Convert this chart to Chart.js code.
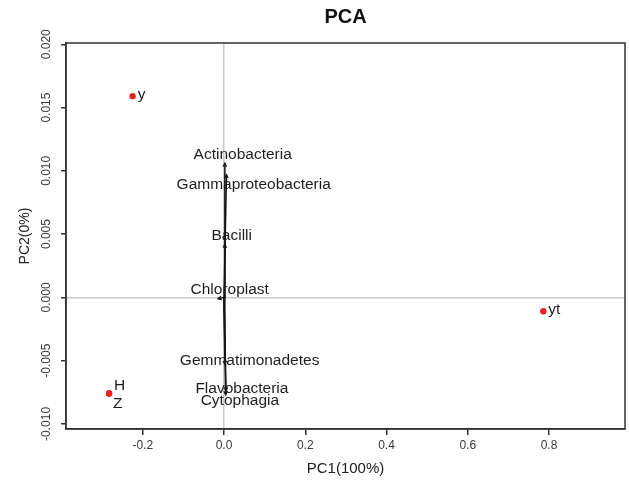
<!DOCTYPE html>
<html>
<head>
<meta charset="utf-8">
<script src="https://cdn.jsdelivr.net/npm/chart.js@4"></script>
<style>
  body { margin: 0; background: #fff; }
  #wrap { width: 629px; height: 484px; }
</style>
</head>
<body>
<div id="wrap"><canvas id="pca"></canvas></div>
<script>
// sample scores
var sampleNames = ['y', 'H', 'Z', 'yt'];
var samplePC1 = [-0.225, -0.283, -0.283, 0.786];
var samplePC2 = [0.0159, -0.0076, -0.0076, -0.0011];

// taxa loadings (arrow tips and label anchors)
var taxa = ['Actinobacteria', 'Gammaproteobacteria', 'Bacilli', 'Chloroplast',
            'Gemmatimonadetes', 'Flavobacteria', 'Cytophagia'];
var arrowPC1 = [0.002, 0.006, 0.002, -0.015, 0.002, 0.005, 0.004];
var arrowPC2 = [0.0106, 0.0097, 0.0042, -0.0001, -0.0053, -0.0074, -0.0077];
var labelPC1 = [0.046, 0.073, 0.019, 0.014, 0.063, 0.044, 0.039];
var labelPC2 = [0.0113, 0.0089, 0.0049, 0.0006, -0.0050, -0.0072, -0.0082];

// axis ticks
var xTicks = [-0.2, 0.0, 0.2, 0.4, 0.6, 0.8];
var yTicks = [-0.010, -0.005, 0.000, 0.005, 0.010, 0.015, 0.020];

var FONT = "'Liberation Sans', Arial, sans-serif";

var datasets = [];
for (var i = 0; i < taxa.length; i++) {
    datasets.push({
        type: 'line',
        label: taxa[i],
        data: [{x: 0, y: 0}, {x: arrowPC1[i], y: arrowPC2[i]}],
        borderColor: '#151515',
        borderWidth: 1.5,
        pointRadius: 0,
        fill: false
    });
}
datasets.push({
    label: 'samples',
    data: sampleNames.map(function(n, i) { return {x: samplePC1[i], y: samplePC2[i]}; }),
    backgroundColor: '#e8231d',
    borderWidth: 0,
    pointRadius: 3.2
});

var gridColor = function(c) { return c.tick && c.tick.value === 0 ? '#c9c9c9' : 'rgba(0,0,0,0)'; };

// box, arrow heads, text labels, rotated y tick labels
var biplotPlugin = {
    id: 'biplot',
    afterDatasetsDraw: function(chart) {
        var ctx = chart.ctx, a = chart.chartArea;
        var xs = chart.scales.x, ys = chart.scales.y;
        ctx.save();
        ctx.strokeStyle = '#333';
        ctx.lineWidth = 1.5;
        ctx.strokeRect(a.left, a.top, a.right - a.left, a.bottom - a.top);

        // arrow heads
        ctx.strokeStyle = '#151515';
        ctx.lineWidth = 1.2;
        for (var i = 0; i < taxa.length; i++) {
            var x0 = xs.getPixelForValue(0), y0 = ys.getPixelForValue(0);
            var x1 = xs.getPixelForValue(arrowPC1[i]), y1 = ys.getPixelForValue(arrowPC2[i]);
            var ang = Math.atan2(y1 - y0, x1 - x0);
            var len = 4;
            ctx.beginPath();
            ctx.moveTo(x1 - len * Math.cos(ang - 0.45), y1 - len * Math.sin(ang - 0.45));
            ctx.lineTo(x1, y1);
            ctx.lineTo(x1 - len * Math.cos(ang + 0.45), y1 - len * Math.sin(ang + 0.45));
            ctx.stroke();
        }

        // taxa labels
        ctx.fillStyle = '#1e1e1e';
        ctx.font = '15.5px ' + FONT;
        ctx.textAlign = 'center';
        ctx.textBaseline = 'middle';
        for (var j = 0; j < taxa.length; j++) {
            ctx.fillText(taxa[j], xs.getPixelForValue(labelPC1[j]), ys.getPixelForValue(labelPC2[j]));
        }

        // sample labels
        var offs = [[5, -1, 'left'], [5, -8, 'left'], [4, 10, 'left'], [5, -2, 'left']];
        ctx.font = '15.5px ' + FONT;
        for (var k = 0; k < sampleNames.length; k++) {
            ctx.textAlign = offs[k][2];
            ctx.fillText(sampleNames[k],
                xs.getPixelForValue(samplePC1[k]) + offs[k][0],
                ys.getPixelForValue(samplePC2[k]) + offs[k][1]);
        }

        // y tick labels, rotated like R
        ctx.fillStyle = '#3a3a3a';
        ctx.font = '12px ' + FONT;
        ctx.textAlign = 'center';
        ys.ticks.forEach(function(t) {
            var py = ys.getPixelForValue(t.value);
            ctx.save();
            ctx.translate(47, py);
            ctx.rotate(-Math.PI / 2);
            ctx.fillText(t.value.toFixed(3), 0, 0);
            ctx.restore();
        });
        ctx.restore();
    }
};

var ctxPca = document.getElementById('pca').getContext('2d');
var pcaChart = new Chart(ctxPca, {
    type: 'scatter',
    data: { datasets: datasets },
    options: {
        responsive: true,
        maintainAspectRatio: false,
        animation: false,
        layout: { padding: { left: 0, right: 3, top: 0, bottom: 0 } },
        plugins: {
            legend: { display: false },
            tooltip: { enabled: false },
            title: {
                display: true,
                text: 'PCA',
                fullSize: false,
                color: '#111',
                font: { family: FONT, size: 20, weight: 'bold' },
                padding: { top: 5.5, bottom: 13.5 }
            }
        },
        scales: {
            x: {
                type: 'linear',
                min: -0.389,
                max: 0.987,
                afterBuildTicks: function(s) { s.ticks = xTicks.map(function(v) { return {value: v}; }); },
                afterFit: function(s) { s.height = 55; },
                ticks: {
                    color: '#3a3a3a',
                    font: { family: FONT, size: 12 },
                    padding: 3,
                    maxRotation: 0,
                    callback: function(v) { return v.toFixed(1); }
                },
                grid: { color: gridColor, tickColor: '#333', tickLength: 6, lineWidth: 1.5 },
                border: { display: true, color: '#333', width: 1.5 },
                title: {
                    display: true,
                    text: 'PC1(100%)',
                    color: '#222',
                    font: { family: FONT, size: 15 },
                    padding: { top: 0, bottom: 6 }
                }
            },
            y: {
                type: 'linear',
                min: -0.0104,
                max: 0.0201,
                afterBuildTicks: function(s) { s.ticks = yTicks.map(function(v) { return {value: v}; }); },
                afterFit: function(s) { s.width = 66; },
                ticks: {
                    color: 'rgba(0,0,0,0)',
                    font: { family: FONT, size: 12 },
                    callback: function(v) { return v.toFixed(3); }
                },
                grid: { color: gridColor, tickColor: '#333', tickLength: 5, lineWidth: 1.5 },
                border: { display: true, color: '#333', width: 1.5 },
                title: {
                    display: true,
                    text: 'PC2(0%)',
                    color: '#222',
                    font: { family: FONT, size: 14 },
                    padding: { top: 17, bottom: 0 }
                }
            }
        }
    },
    plugins: [biplotPlugin]
});
</script>
</body>
</html>
